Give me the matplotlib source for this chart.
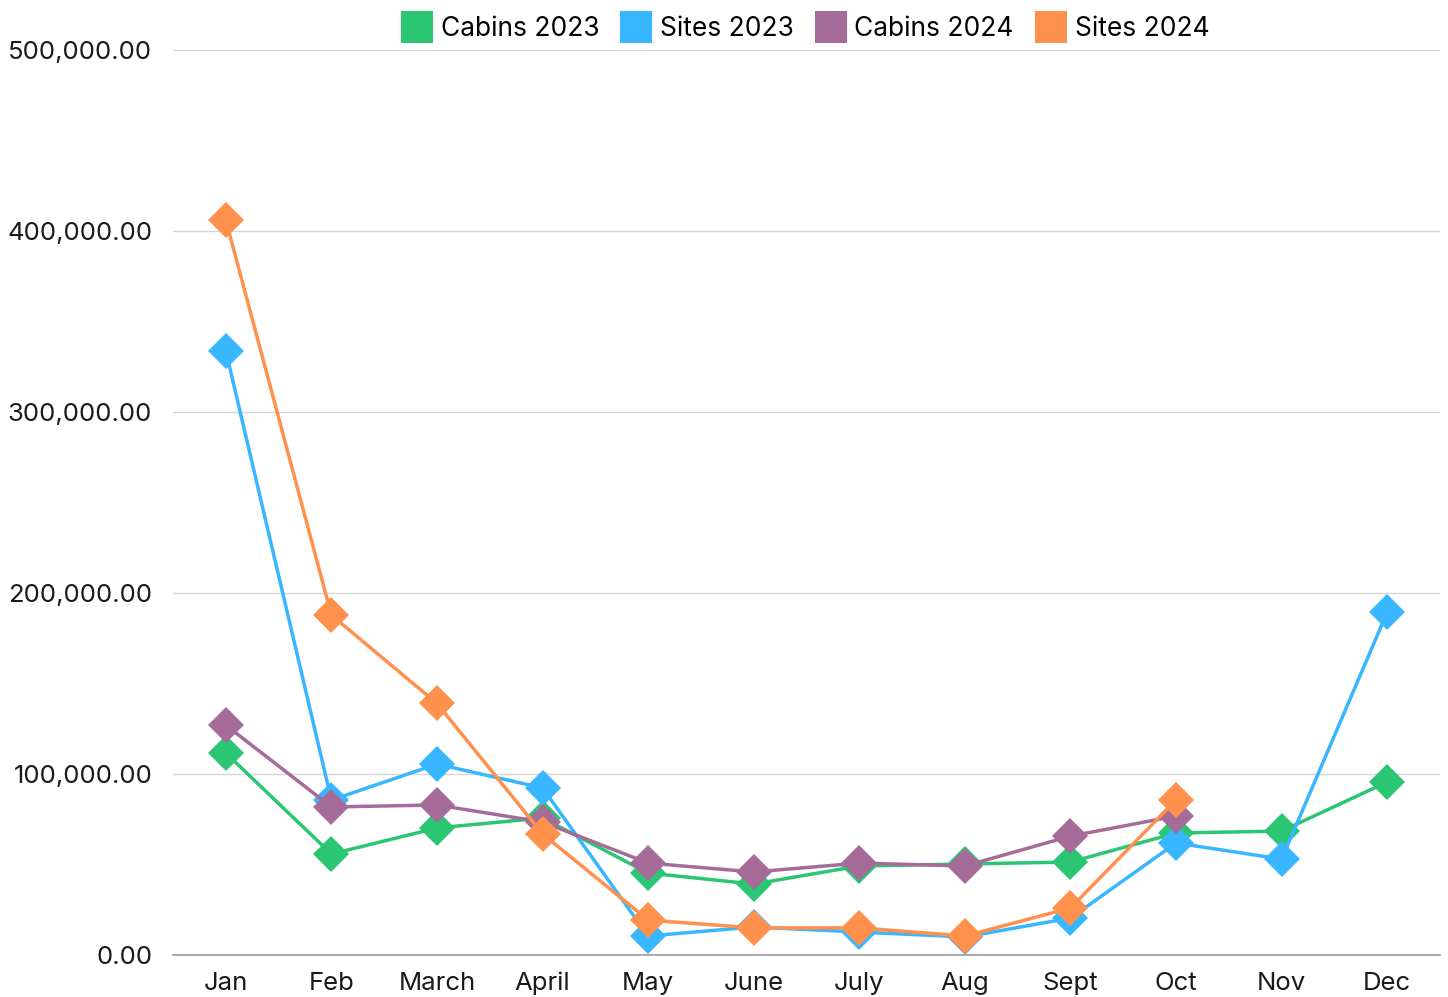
import numpy as np
import matplotlib
matplotlib.use('Agg')
import matplotlib.pyplot as plt
from matplotlib.lines import Line2D
from matplotlib.ticker import FuncFormatter

plt.rcParams['font.family'] = ['Inter', 'DejaVu Sans']

months = ['Jan', 'Feb', 'March', 'April', 'May', 'June', 'July', 'Aug', 'Sept', 'Oct', 'Nov', 'Dec']

cabins_2023 = [111600, 55800, 70200, 75700, 45300, 39200, 49200, 50300, 51400, 67400, 68500, 95600]
sites_2023 = [333700, 85600, 105500, 92300, 10500, 15500, 12700, 10000, 20400, 61900, 53000, 189500]
cabins_2024 = [127000, 81800, 82900, 73500, 50800, 45900, 50800, 49200, 65700, 76800, np.nan, np.nan]
sites_2024 = [406000, 187800, 139000, 66900, 19300, 15000, 15000, 10500, 26000, 85600, np.nan, np.nan]

series = [
    ('Cabins 2023', cabins_2023, '#2ac673'),
    ('Sites 2023', sites_2023, '#38b6ff'),
    ('Cabins 2024', cabins_2024, '#a56c99'),
    ('Sites 2024', sites_2024, '#ff914d'),
]

fig = plt.figure(figsize=(14.48, 9.97), dpi=100)
ax = fig.add_axes([0.1195, 0.0421, 0.875, 0.9077])

x = np.arange(len(months))
for name, vals, col in series:
    ax.plot(x, vals, color=col, linewidth=2.5, marker='D', markersize=18,
            markeredgewidth=0, label=name)

ax.set_xlim(-0.5, len(months) - 0.5)
ax.set_ylim(0, 500000)
ax.set_yticks(np.arange(0, 500001, 100000))
ax.yaxis.set_major_formatter(FuncFormatter(lambda v, p: f'{v:,.2f}'))
ax.set_xticks(x)
ax.set_xticklabels(months)
ax.tick_params(axis='both', length=0, labelsize=18.5, colors='#1a1a1a')
ax.tick_params(axis='y', pad=15)
ax.tick_params(axis='x', pad=12)

ax.grid(axis='y', color='#d6d6d6', linewidth=1)
ax.set_axisbelow(True)
for s in ['top', 'right', 'left']:
    ax.spines[s].set_visible(False)
ax.spines['bottom'].set_color('#9a9a9a')
ax.spines['bottom'].set_linewidth(1.2)

handles = [Line2D([0], [0], marker='s', linestyle='none', markersize=23,
                  markerfacecolor=c, markeredgewidth=0) for _, _, c in series]
fig.legend(handles, [n for n, _, _ in series], loc='upper center',
           bbox_to_anchor=(0.556, 1.008), ncol=4, frameon=False, fontsize=19,
           handletextpad=0.3, columnspacing=0.8, handlelength=1.2)

fig.savefig('out.png', dpi=100)
